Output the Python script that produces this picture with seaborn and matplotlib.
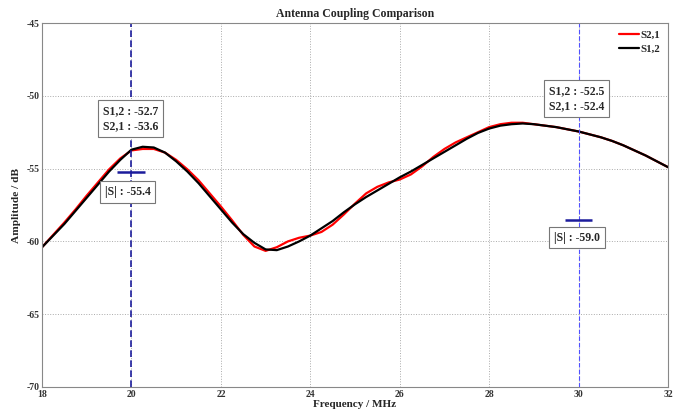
import numpy as np
import pandas as pd
import matplotlib
matplotlib.use("Agg")
import matplotlib.pyplot as plt
import seaborn as sns

# ---- data ----
freq = [18.0, 18.25, 18.5, 18.75, 19.0, 19.25, 19.5, 19.75, 20.0, 20.25, 20.5, 20.75,
        21.0, 21.25, 21.5, 21.75, 22.0, 22.25, 22.5, 22.75, 23.0, 23.25, 23.5, 23.75,
        24.0, 24.25, 24.5, 24.75, 25.0, 25.25, 25.5, 25.75, 26.0, 26.25, 26.5, 26.75,
        27.0, 27.25, 27.5, 27.75, 28.0, 28.25, 28.5, 28.75, 29.0, 29.25, 29.5, 29.75,
        30.0, 30.25, 30.5, 30.75, 31.0, 31.25, 31.5, 31.75, 32.0]

s12 = [-60.4, -59.6, -58.8, -57.9, -57.0, -56.1, -55.2, -54.4, -53.7, -53.5, -53.55, -53.9,
       -54.5, -55.2, -56.0, -56.9, -57.8, -58.7, -59.5, -60.1, -60.55, -60.6, -60.35, -60.0,
       -59.6, -59.1, -58.6, -58.0, -57.45, -56.95, -56.5, -56.05, -55.6, -55.2, -54.75, -54.3,
       -53.85, -53.4, -52.95, -52.55, -52.25, -52.05, -51.95, -51.9, -51.95, -52.05, -52.15, -52.3,
       -52.45, -52.65, -52.85, -53.1, -53.4, -53.75, -54.1, -54.5, -54.9]

s21 = [-60.4, -59.55, -58.7, -57.8, -56.85, -55.95, -55.05, -54.3, -53.75, -53.65, -53.65, -53.9,
       -54.4, -55.05, -55.8, -56.7, -57.6, -58.55, -59.55, -60.35, -60.65, -60.4, -60.0, -59.75,
       -59.6, -59.35, -58.85, -58.15, -57.4, -56.7, -56.25, -55.95, -55.75, -55.4, -54.85, -54.2,
       -53.65, -53.2, -52.85, -52.5, -52.15, -51.95, -51.85, -51.85, -51.95, -52.05, -52.15, -52.3,
       -52.45, -52.65, -52.85, -53.1, -53.4, -53.75, -54.1, -54.5, -54.9]

series_names = ["S2,1", "S1,2"]
series_colors = ["#ff0000", "#000000"]

marker_freqs = [20, 30]
marker_abs = [-55.25, -58.5]
abs_labels = ["|S| : -55.4", "|S| : -59.0"]
pair_labels = ["S1,2 : -52.7\nS2,1 : -53.6", "S1,2 : -52.5\nS2,1 : -52.4"]

xticks = [18, 20, 22, 24, 26, 28, 30, 32]
yticks = [-70, -65, -60, -55, -50, -45]

# ---- style ----
sns.set_theme(style="white")
plt.rcParams['font.family'] = ['Liberation Serif', 'DejaVu Serif']
plt.rcParams['axes.unicode_minus'] = False

df = pd.concat([
    pd.DataFrame({"Frequency": freq, "Amplitude": s21, "Series": "S2,1"}),
    pd.DataFrame({"Frequency": freq, "Amplitude": s12, "Series": "S1,2"}),
])

fig = plt.figure(figsize=(6.79, 4.11), dpi=100)
ax = fig.add_axes([0.0619, 0.0584, 0.9219, 0.8856])

sns.lineplot(data=df, x="Frequency", y="Amplitude", hue="Series",
             hue_order=series_names, palette=series_colors, linewidth=1.6,
             ax=ax, sort=False)

ax.set_xlim(18, 32)
ax.set_ylim(-70, -45)
ax.set_xticks(xticks)
ax.set_yticks(yticks)
ax.set_xticklabels([str(t) for t in xticks], fontsize=7, fontweight='bold')
ax.set_yticklabels([str(t) for t in yticks], fontsize=7, fontweight='bold')
ax.tick_params(direction='in', length=3, width=0.6, colors='#333333', pad=2)
ax.grid(True, linestyle=':', color='#aaaaaa', linewidth=0.7)
for s in ax.spines.values():
    s.set_color('#888888')
    s.set_linewidth(0.8)

ax.set_xlabel("Frequency / MHz", fontsize=8, fontweight='bold', labelpad=1)
ax.set_ylabel("Amplitude / dB", fontsize=8.2, fontweight='bold', labelpad=4)
ax.set_title("Antenna Coupling Comparison", fontsize=8.5, fontweight='bold', pad=4)

# vertical marker lines
ax.axvline(marker_freqs[0], color='#1c1c9c', linestyle='--', linewidth=1.2, dashes=(4, 2))
ax.axvline(marker_freqs[1], color='#5050ff', linestyle='--', linewidth=0.8, dashes=(4, 2))
ax.hlines(marker_abs[0], marker_freqs[0] - 0.32, marker_freqs[0] + 0.3, color='#1c1c9c', linewidth=1.8)
ax.hlines(marker_abs[1], marker_freqs[1] - 0.3, marker_freqs[1] + 0.3, color='#1c1c9c', linewidth=1.8)

box = dict(boxstyle='square,pad=0.4', facecolor='white', edgecolor='#777777', linewidth=0.8)
ax.text(19.36, -50.62, pair_labels[0], fontsize=8.5, fontweight='bold', va='top', ha='left',
        bbox=box, linespacing=1.4)
ax.text(29.33, -49.25, pair_labels[1], fontsize=8.5, fontweight='bold', va='top', ha='left',
        bbox=box, linespacing=1.4)
ax.text(19.4, -56.6, abs_labels[0], fontsize=8.5, fontweight='bold', va='center', ha='left', bbox=box)
ax.text(29.45, -59.75, abs_labels[1], fontsize=8.5, fontweight='bold', va='center', ha='left', bbox=box)

leg = ax.legend(loc='upper right', frameon=False, fontsize=7.8, handlelength=1.8,
                handletextpad=0.2, borderaxespad=0.3, labelspacing=0.35)
for t in leg.get_texts():
    t.set_fontweight('bold')

fig.savefig("out.png", dpi=100)
